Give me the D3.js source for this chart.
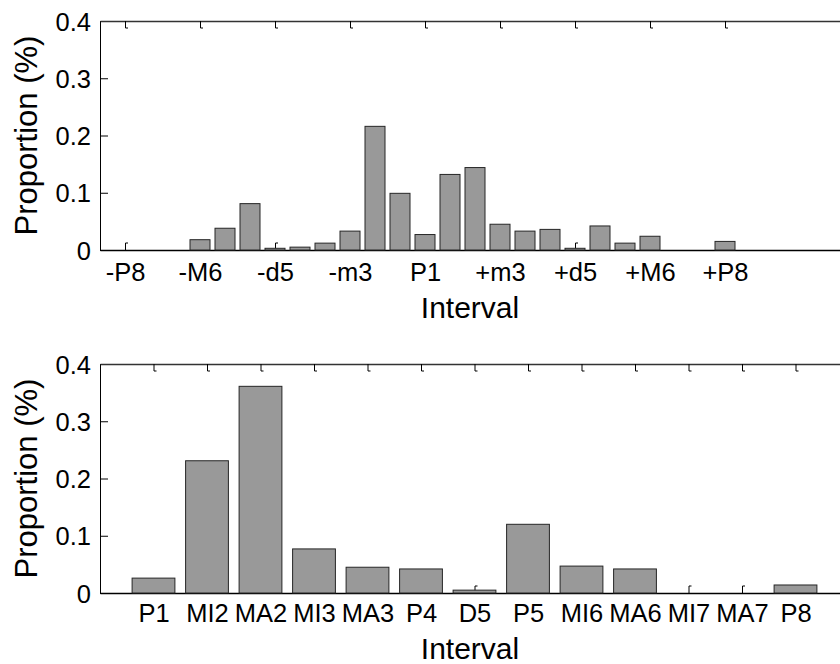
<!DOCTYPE html>
<html>
<head>
<meta charset="utf-8">
<script src="https://cdn.jsdelivr.net/npm/d3@7"></script>
<style>
  html, body { margin: 0; padding: 0; background: #fff; }
  svg { display: block; }
  text { font-family: "Liberation Sans", Arial, Helvetica, sans-serif; fill: #000; }
</style>
</head>
<body>
<script>
// ---- Data (top panel: signed intervals in semitones) ----
const topSemitones = [-12,-11,-10,-9,-8,-7,-6,-5,-4,-3,-2,-1,0,1,2,3,4,5,6,7,8,9,10,11,12];
const topValues    = [0,0,0,0.018,0.038,0.081,0.003,0.005,0.012,0.033,0.216,0.099,0.027,
                      0.132,0.144,0.045,0.033,0.036,0.003,0.042,0.012,0.024,0,0,0.015];
const topTickSemitones = [-12,-9,-6,-3,0,3,6,9,12];
const topTickLabels    = ["-P8","-M6","-d5","-m3","P1","+m3","+d5","+M6","+P8"];

// ---- Data (bottom panel: interval classes) ----
const bottomCategories = ["P1","MI2","MA2","MI3","MA3","P4","D5","P5","MI6","MA6","MI7","MA7","P8"];
const bottomValues     = [0.026,0.231,0.361,0.077,0.045,0.042,0.005,0.120,0.047,0.042,0,0,0.014];

const yTickValues = [0, 0.1, 0.2, 0.3, 0.4];
const yLabel = "Proportion (%)";
const xLabel = "Interval";

const W = 840, H = 664;
const svg = d3.select("body").append("svg").attr("width", W).attr("height", H);

function panel(opts) {
  const { top, bottom, xDomain, xRange, positions, values, tickVals, tickFmt, barFrac, unit, labelPad, xLabelY } = opts;
  const x = d3.scaleLinear().domain(xDomain).range(xRange);
  const y = d3.scaleLinear().domain([0, 0.4]).range([bottom, top]);
  const g = svg.append("g");

  // left axis (ticks pointing inward)
  const ya = g.append("g").attr("transform", `translate(${xRange[0]},0)`)
    .call(d3.axisLeft(y).tickValues(yTickValues)
      .tickFormat(d => d === 0 ? "0" : d3.format(".1f")(d))
      .tickSize(-8).tickSizeOuter(0).tickPadding(9));
  ya.select(".domain").attr("stroke", "#000").attr("stroke-width", 1);
  ya.selectAll(".tick line").attr("stroke", "#000").attr("stroke-width", 1);
  ya.selectAll(".tick text").attr("font-size", 25.5).attr("dy", "0.36em");

  // top axis line with inward ticks
  const ta = g.append("g").attr("transform", `translate(0,${top})`)
    .call(d3.axisTop(x).tickValues(tickVals).tickFormat("").tickSize(-7).tickSizeOuter(0));
  ta.select(".domain").attr("stroke", "#333").attr("stroke-width", 1.3);
  ta.selectAll(".tick line").attr("stroke", "#000").attr("stroke-width", 1);
  ta.selectAll(".tick").append("line")
    .attr("x1", 0).attr("x2", 2.5).attr("y1", 7).attr("y2", 7)
    .attr("stroke", "#000").attr("stroke-width", 1);

  // bottom axis with inward ticks (drawn before bars so bars cover them)
  const ba = g.append("g").attr("transform", `translate(0,${bottom})`)
    .call(d3.axisBottom(x).tickValues(tickVals).tickFormat(tickFmt)
      .tickSize(-7).tickSizeOuter(0).tickPadding(labelPad));
  ba.select(".domain").attr("stroke", "#000").attr("stroke-width", 1.3);
  ba.selectAll(".tick line").attr("stroke", "#000").attr("stroke-width", 1);
  ba.selectAll(".tick").append("line")
    .attr("x1", 0).attr("x2", 2.5).attr("y1", -7).attr("y2", -7)
    .attr("stroke", "#000").attr("stroke-width", 1);
  ba.selectAll(".tick text").attr("font-size", 25.5);

  // bars
  const bw = unit * barFrac;
  g.append("g").selectAll("rect")
    .data(positions.map((p, i) => ({ p, v: values[i] })))
    .join("rect")
    .attr("x", d => x(d.p) - bw / 2)
    .attr("width", bw)
    .attr("y", d => y(d.v))
    .attr("height", d => y(0) - y(d.v))
    .attr("fill", "#999999")
    .attr("stroke", "#262626")
    .attr("stroke-width", 1);

  // axis labels
  g.append("text")
    .attr("transform", `translate(37,${(top + bottom) / 2}) rotate(-90)`)
    .attr("text-anchor", "middle")
    .attr("font-size", 31)
    .text(yLabel);
  g.append("text")
    .attr("x", 470).attr("y", xLabelY)
    .attr("text-anchor", "middle")
    .attr("font-size", 30)
    .text(xLabel);
}

panel({
  top: 21, bottom: 250,
  xDomain: [-13, 17], xRange: [100, 850],
  positions: topSemitones, values: topValues,
  tickVals: topTickSemitones,
  tickFmt: d => topTickLabels[topTickSemitones.indexOf(d)],
  barFrac: 0.8, unit: 25, labelPad: 13, xLabelY: 318
});

const bottomPositions = bottomCategories.map((c, i) => i + 1);
panel({
  top: 364, bottom: 593,
  xDomain: [0, 14], xRange: [100, 849],
  positions: bottomPositions, values: bottomValues,
  tickVals: bottomPositions,
  tickFmt: d => bottomCategories[d - 1],
  barFrac: 0.8, unit: 53.5, labelPad: 11, xLabelY: 659
});
</script>
</body>
</html>
